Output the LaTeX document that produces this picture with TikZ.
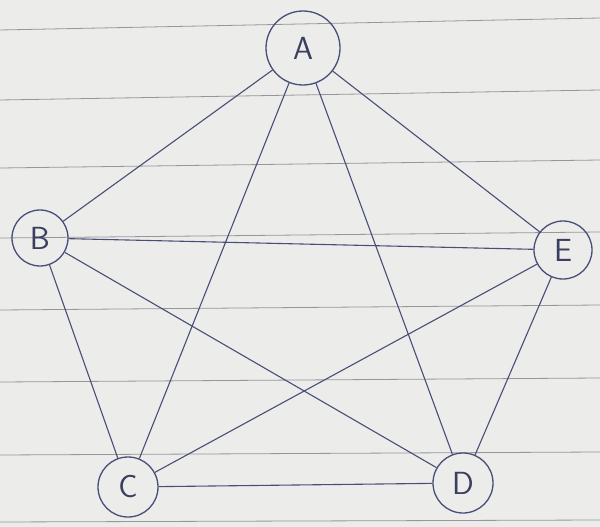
\documentclass[tikz,border=0pt]{standalone}
\definecolor{ink}{RGB}{72,78,120}
\definecolor{paper}{RGB}{236,236,234}
\definecolor{rule}{RGB}{150,150,155}
\begin{document}
\begin{tikzpicture}[x=1pt,y=-1pt,
  vtx/.style={circle,draw=ink,line width=1.3pt,inner sep=0pt,font=\sffamily\fontsize{32}{32}\selectfont,text=ink!80!black},
  edge/.style={draw=ink,line width=1.1pt}]
\fill[paper] (0,0) rectangle (600,527);
\useasboundingbox (0,0) rectangle (600,527);
\foreach \y/\d in {30/-12,100/-10,168/-8,238/-6,310/-5,382/-4,455/-3,522/-2}
  \draw[rule,line width=0.8pt] (0,\y) -- (600,\y+\d);
\node[vtx,minimum size=74pt] (A) at (303,48) {A};
\node[vtx,minimum size=56pt] (B) at (40,238) {B};
\node[vtx,minimum size=60pt] (C) at (128,487) {C};
\node[vtx,minimum size=60pt] (D) at (463,483) {D};
\node[vtx,minimum size=58pt] (E) at (563,250) {E};
\draw[edge] (A) -- (B);
\draw[edge] (A) -- (C);
\draw[edge] (A) -- (D);
\draw[edge] (A) -- (E);
\draw[edge] (B) -- (E);
\draw[edge] (B) -- (D);
\draw[edge] (B) -- (C);
\draw[edge] (C) -- (E);
\draw[edge] (C) -- (D);
\draw[edge] (D) -- (E);
\end{tikzpicture}
\end{document}
